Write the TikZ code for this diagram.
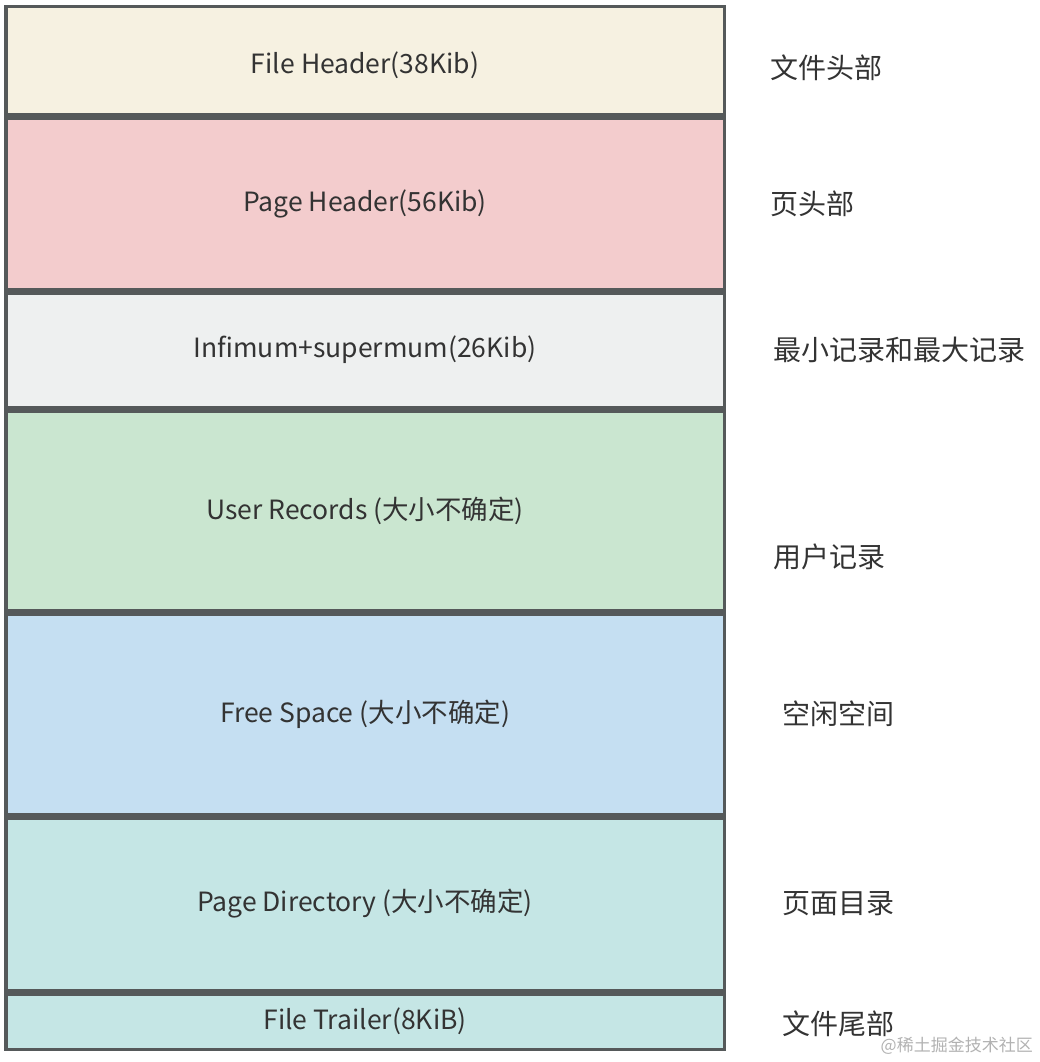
\documentclass[tikz,border=0pt]{standalone}
\usepackage{fontspec}
\setmainfont{Noto Sans CJK SC}
\usepackage{tikz}
\usetikzlibrary{positioning}
\usepackage{xcolor}
\definecolor{edge}{HTML}{55595A}
\definecolor{txt}{HTML}{333333}
\definecolor{cream}{HTML}{F6F1E1}
\definecolor{pink}{HTML}{F3CCCD}
\definecolor{lgray}{HTML}{EEF0F0}
\definecolor{lgreen}{HTML}{CAE6D0}
\definecolor{lblue}{HTML}{C5DFF2}
\definecolor{lteal}{HTML}{C5E6E5}
\tikzstyle{part} = [rectangle, minimum width=718.5pt, line width=3.5pt, text centered, draw=edge, text=txt, font=\fontsize{26.5}{30}\selectfont]
\tikzstyle{note} = [anchor=west, text=txt, inner sep=0pt, font=\fontsize{28}{32}\selectfont]

\begin{document}
\begin{tikzpicture}[x=1pt, y=-1pt, node distance=0pt]
\useasboundingbox (0,0) rectangle (1039,1062);

\node (fh) [part, fill=cream, minimum height=108.5pt] at (365,61) {\smash{\raisebox{-13pt}{File Header(38Kib)}}};
\node (ph) [part, fill=pink, minimum height=170.5pt, below=of fh] {Page Header(56Kib)};
\node (inf) [part, fill=lgray, minimum height=114.5pt, below=of ph] {Infimum+supermum(26Kib)};
\node (ur) [part, fill=lgreen, minimum height=199.5pt, below=of inf] {User Records (大小不确定)};
\node (fs) [part, fill=lblue, minimum height=200.5pt, below=of ur] {Free Space (大小不确定)};
\node (pd) [part, fill=lteal, minimum height=172.5pt, below=of fs] {Page Directory (大小不确定)};
\node (ft) [part, fill=lteal, minimum height=55.5pt, below=of pd] {File Trailer(8KiB)};

\node (lfh) [note, right=44pt of fh.east, yshift=-7pt] {文件头部};
\node (lph) [note, right=44pt of ph.east] {页头部};
\node (linf) [note, right=47pt of inf.east] {最小记录和最大记录};
\node (lur) [note, right=47pt of ur.east, yshift=-46pt] {用户记录};
\node (lfs) [note, right=56pt of fs.east] {空闲空间};
\node (lpd) [note, right=56pt of pd.east] {页面目录};
\node (lft) [note, right=56pt of ft.east, yshift=-2pt] {文件尾部};

\node (wm) [anchor=east, text=black!30, inner sep=0pt, font=\fontsize{17}{20}\selectfont] at (1033,1046) {@稀土掘金技术社区};

\end{tikzpicture}
\end{document}
